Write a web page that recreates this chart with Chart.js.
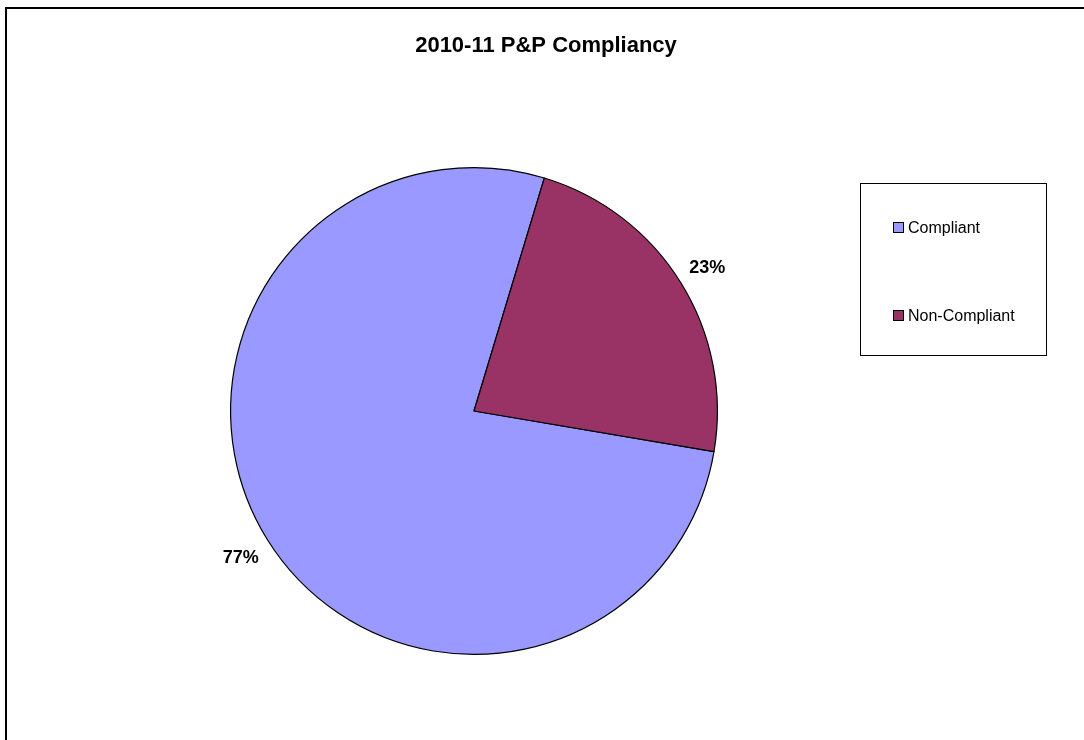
<!DOCTYPE html>
<html>
<head>
<meta charset="utf-8">
<script src="https://cdn.jsdelivr.net/npm/chart.js@4.4.0/dist/chart.umd.min.js"></script>
<style>
  html, body { margin: 0; padding: 0; background: #fff; overflow: hidden; }
  #frame { position: absolute; left: 5px; top: 7px; width: 1200px; height: 900px;
           border-top: 2px solid #000; border-left: 2px solid #000; }
  #wrap { position: absolute; left: 0; top: 0; width: 1084px; height: 740px; }
</style>
</head>
<body>
<div id="frame"></div>
<div id="wrap"><canvas id="myChart" width="1084" height="740"></canvas></div>
<script>
var title = '2010-11 P&P Compliancy'
var labels = ['Compliant', 'Non-Compliant']
var values = [77, 23]
var colors = ['#9999FF', '#993366']

var font = '"Liberation Sans", Arial, sans-serif'

// draws title, percent labels and the boxed legend
var extras = {
    id: 'extras',
    afterDraw: function(chart) {
        var c = chart.ctx
        c.save()
        c.fillStyle = '#000'
        c.textAlign = 'center'
        c.textBaseline = 'middle'
        c.font = 'bold 22px ' + font
        c.fillText(title, 546, 46)

        // percent labels outside the slices
        var meta = chart.getDatasetMeta(0)
        var total = values.reduce(function(a, b) { return a + b }, 0)
        c.font = 'bold 18px ' + font
        meta.data.forEach(function(arc, i) {
            var mid = (arc.startAngle + arc.endAngle) / 2
            var r = arc.outerRadius + 31
            var x = arc.x + Math.cos(mid) * r
            var y = arc.y + Math.sin(mid) * r
            c.fillText(Math.round(values[i] / total * 100) + '%', x, y + 2)
        })

        // legend box
        c.strokeStyle = '#000'
        c.lineWidth = 1
        c.strokeRect(860.5, 183.5, 186, 172)
        c.font = '16px ' + font
        c.textAlign = 'left'
        var ys = [228, 316]
        labels.forEach(function(lab, i) {
            c.fillStyle = colors[i]
            c.fillRect(894, ys[i] - 5, 10, 10)
            c.strokeRect(893.5, ys[i] - 5.5, 10, 10)
            c.fillStyle = '#000'
            c.fillText(lab, 908, ys[i] + 1)
        })
        c.restore()
    }
}

var ctx = document.getElementById('myChart').getContext('2d')
var chart = new Chart(ctx, {
    type: 'pie',
    data: {
        labels: labels,
        datasets: [{
            data: values,
            backgroundColor: colors,
            borderColor: '#000',
            borderWidth: 1.2
        }]
    },
    options: {
        responsive: false,
        animation: false,
        rotation: 99.6,
        layout: { padding: { left: 230, right: 366, top: 167, bottom: 85 } },
        plugins: {
            legend: { display: false },
            title: { display: false },
            tooltip: { enabled: false }
        }
    },
    plugins: [extras]
});
</script>
</body>
</html>
